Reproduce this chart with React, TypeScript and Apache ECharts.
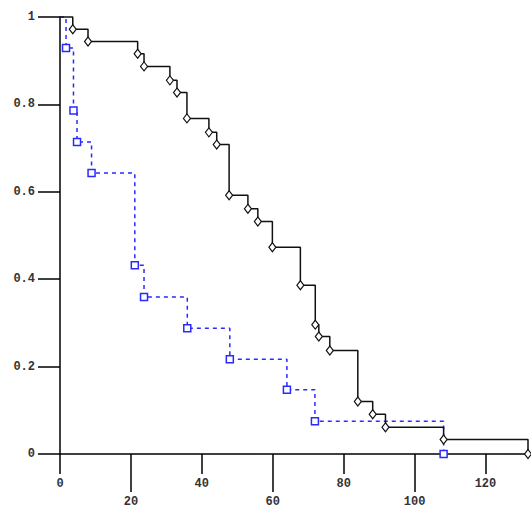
import React, { useEffect, useRef } from "react";
import * as echarts from "echarts";

// Group A (black, solid, diamonds)
const timesA = [0, 3.6, 7.9, 21.9, 23.7, 31.0, 33.0, 35.8, 42.0, 44.2, 47.7, 53.0, 55.8, 59.9, 67.8, 72.0, 73.0, 76.1, 84.0, 88.2, 91.8, 108.2, 132];
const survA = [1, 0.972, 0.944, 0.916, 0.887, 0.855, 0.827, 0.768, 0.736, 0.708, 0.592, 0.561, 0.532, 0.473, 0.386, 0.296, 0.269, 0.237, 0.12, 0.091, 0.061, 0.033, 0];

// Group B (blue, dashed, squares)
const timesB = [0, 1.7, 3.8, 4.8, 8.9, 21.1, 23.7, 35.9, 47.9, 64.0, 71.9, 108.2];
const survB = [1, 0.929, 0.786, 0.714, 0.643, 0.432, 0.359, 0.288, 0.217, 0.147, 0.075, 0];

const xTicksShort = [0, 40, 80, 120];
const xTicksLong = [20, 60, 100];
const yTicks = [0, 0.2, 0.4, 0.6, 0.8, 1];

const FONT = "'Liberation Mono', 'DejaVu Sans Mono', monospace";

function build(times: number[], surv: number[]) {
  return times.map((t, i) =>
    i === 0 ? { value: [t, surv[i]], symbol: "none" } : { value: [t, surv[i]] }
  );
}

export default function App() {
  const ref = useRef<HTMLDivElement>(null);
  useEffect(() => {
    if (!ref.current) return;
    const chart = echarts.init(ref.current, null, { renderer: "svg" });
    const labelStyle = { color: "#333", fontFamily: FONT, fontSize: 12, fontWeight: "bold" as const };
    const baseX = {
      type: "value" as const,
      min: 0,
      max: 132,
      position: "bottom" as const,
      splitLine: { show: false },
    };
    chart.setOption({
      animation: false,
      grid: { left: 60, right: 3, top: 17, bottom: 53, containLabel: false },
      xAxis: [
        {
          ...baseX,
          axisLine: { show: true, onZero: false, lineStyle: { color: "#000", width: 1.5 } },
          axisTick: { show: true, length: 20, customValues: xTicksShort, lineStyle: { color: "#000", width: 1.5 } },
          axisLabel: { ...labelStyle, margin: 24, customValues: xTicksShort },
        },
        {
          ...baseX,
          axisLine: { show: false },
          axisTick: { show: true, length: 38, customValues: xTicksLong, lineStyle: { color: "#000", width: 1.5 } },
          axisLabel: { ...labelStyle, margin: 42, customValues: xTicksLong },
        },
      ],
      yAxis: {
        type: "value",
        min: 0,
        max: 1,
        splitLine: { show: false },
        axisLine: { show: true, onZero: false, lineStyle: { color: "#000", width: 1.5 } },
        axisTick: { show: true, length: 22, customValues: yTicks, lineStyle: { color: "#000", width: 1.5 } },
        axisLabel: { ...labelStyle, margin: 25, customValues: yTicks },
      },
      series: [
        {
          type: "line",
          step: "end",
          clip: false,
          data: build(timesB, survB),
          symbol: "rect",
          symbolSize: 7,
          showAllSymbol: true,
          lineStyle: { color: "#2a2aff", width: 1.5, type: [4, 4] },
          itemStyle: { color: "#fff", borderColor: "#2a2aff", borderWidth: 1.5 },
          z: 2,
        },
        {
          type: "line",
          step: "end",
          clip: false,
          data: build(timesA, survA),
          symbol: "diamond",
          symbolSize: [7, 9],
          showAllSymbol: true,
          lineStyle: { color: "#111", width: 1.5 },
          itemStyle: { color: "#fff", borderColor: "#111", borderWidth: 1.2 },
          z: 3,
        },
      ],
    });
    return () => chart.dispose();
  }, []);
  return (
    <div
      ref={ref}
      style={{ position: "fixed", left: 0, top: 0, width: 531, height: 508, background: "#fff" }}
    />
  );
}
